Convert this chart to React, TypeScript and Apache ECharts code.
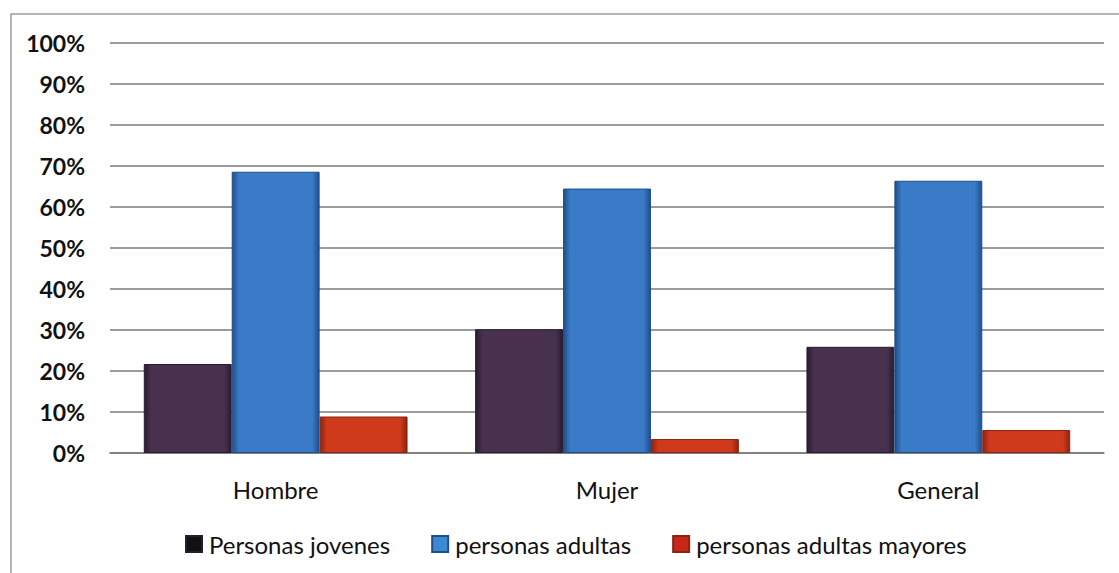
import React, { useEffect, useRef } from "react";
import * as echarts from "echarts";

const categories = ["Hombre", "Mujer", "General"];
const seriesNames = ["Personas jovenes", "personas adultas", "personas adultas mayores"];
const jovenes = [21.7, 30.2, 25.9];
const adultas = [68.6, 64.5, 66.4];
const mayores = [8.9, 3.4, 5.6];
const yTicks = [0, 10, 20, 30, 40, 50, 60, 70, 80, 90, 100];

const colors = ["#47314f", "#3a7bc8", "#d03a1c"];
const borders = ["#2a1c30", "#1f4f8a", "#8a2410"];
const legendColors = ["#111111", "#3a8ad0", "#c8281a"];

function grad(c: string, edge: string) {
  return new echarts.graphic.LinearGradient(0, 0, 1, 0, [
    { offset: 0, color: edge },
    { offset: 0.08, color: c },
    { offset: 0.92, color: c },
    { offset: 1, color: edge },
  ]);
}

export default function App() {
  const ref = useRef<HTMLDivElement>(null);
  useEffect(() => {
    if (!ref.current) return;
    const chart = echarts.init(ref.current, undefined, { renderer: "svg" });
    const data = [jovenes, adultas, mayores];
    chart.setOption({
      animation: false,
      backgroundColor: "#ffffff",
      textStyle: { fontFamily: "Lato" },
      graphic: [
        {
          type: "rect",
          shape: { x: 11, y: 14, width: 1120, height: 580 },
          style: { fill: "none", stroke: "#9a9a9a", lineWidth: 1.5 },
          silent: true,
          z: -1,
        },
      ],
      grid: { left: 110, right: 15, top: 43, bottom: 120 },
      legend: {
        bottom: 12,
        left: 180,
        icon: "rect",
        itemWidth: 16,
        itemHeight: 16,
        itemGap: 41,
        textStyle: { fontSize: 24, color: "#111", fontFamily: "Lato", padding: [0, 0, 0, 2] },
        data: seriesNames.map((n, i) => ({ name: n, itemStyle: { color: legendColors[i] } })),
      },
      xAxis: {
        type: "category",
        data: categories,
        axisTick: { show: false },
        axisLine: { lineStyle: { color: "#7a7a7a", width: 1.5 } },
        axisLabel: { fontSize: 24, color: "#111", margin: 24 },
      },
      yAxis: {
        type: "value",
        min: 0,
        max: 100,
        interval: 10,
        axisLine: { show: false },
        axisTick: { show: false },
        splitLine: { lineStyle: { color: "#7a7a7a", width: 1.5 } },
        axisLabel: {
          fontSize: 23,
          fontWeight: "bold",
          color: "#111",
          margin: 25,
          formatter: (v: number) => (yTicks.includes(v) ? v + "%" : ""),
        },
      },
      series: seriesNames.map((n, i) => ({
        name: n,
        type: "bar",
        data: data[i],
        barGap: "0%",
        barCategoryGap: "20.4%",
        itemStyle: {
          color: grad(colors[i], borders[i]),
          borderColor: borders[i],
          borderWidth: 1,
        },
      })),
    });
    return () => chart.dispose();
  }, []);
  return (
    <div
      ref={ref}
      style={{ position: "absolute", left: 0, top: 0, width: 1119, height: 573 }}
    />
  );
}
